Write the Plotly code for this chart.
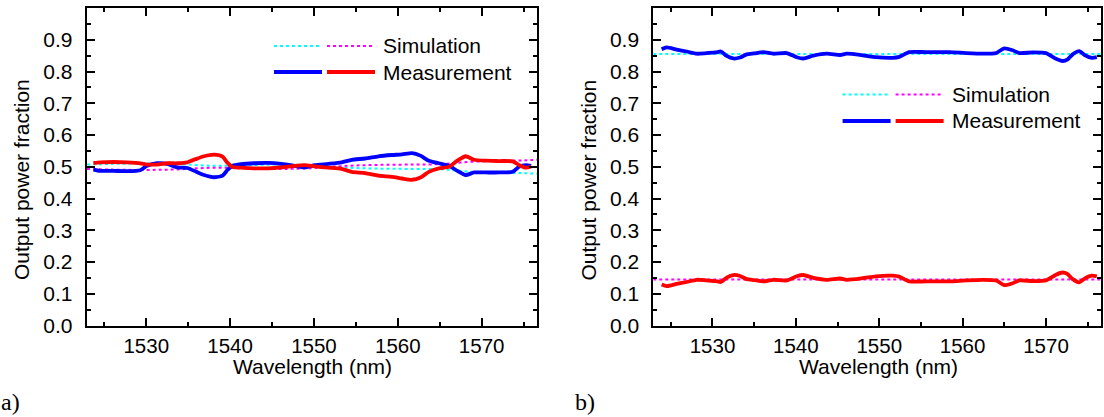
import plotly.graph_objects as go

W, H = 1104, 417

# ---------------- data: panel a) ----------------
a_sim_wl = [1522.9, 1526, 1530, 1534, 1538, 1542, 1546, 1550, 1554, 1558,
            1562, 1565, 1567, 1569, 1571, 1573, 1575, 1576.6]
a_sim_cyan = [0.507, 0.509, 0.510, 0.508, 0.503, 0.505, 0.507, 0.504, 0.497, 0.494,
              0.493, 0.492, 0.488, 0.484, 0.482, 0.481, 0.480, 0.478]
a_sim_magenta = [0.493, 0.491, 0.490, 0.492, 0.497, 0.495, 0.493, 0.496, 0.503, 0.506,
                 0.507, 0.508, 0.512, 0.516, 0.518, 0.519, 0.520, 0.522]

a_meas_wl = [1523.7, 1524.5, 1526.1, 1527.7, 1529.3, 1530.1, 1531.3, 1532.5, 1533.7, 1534.9,
             1535.9, 1536.9, 1538.1, 1539.1, 1539.7, 1540.3, 1541.3, 1542.9, 1544.5, 1546.1,
             1547.7, 1548.9, 1550.1, 1551.7, 1553.3, 1554.5, 1556.1, 1557.7, 1559.3, 1560.5,
             1561.7, 1562.7, 1563.7, 1564.9, 1566.1, 1567.1, 1568.1, 1569.1, 1570.5, 1572.1,
             1573.7, 1574.5, 1575.3, 1575.9]
a_meas_blue = [0.491, 0.487, 0.487, 0.486, 0.489, 0.503, 0.511, 0.509, 0.498, 0.496,
               0.485, 0.474, 0.467, 0.472, 0.490, 0.503, 0.508, 0.511, 0.512, 0.509,
               0.503, 0.498, 0.505, 0.509, 0.514, 0.522, 0.526, 0.533, 0.537, 0.539,
               0.543, 0.535, 0.519, 0.511, 0.503, 0.487, 0.474, 0.482, 0.482, 0.482,
               0.484, 0.501, 0.505, 0.503]
a_meas_red = [0.512, 0.514, 0.515, 0.514, 0.511, 0.507, 0.507, 0.511, 0.511, 0.514,
              0.524, 0.533, 0.538, 0.532, 0.512, 0.499, 0.497, 0.495, 0.495, 0.498,
              0.503, 0.505, 0.501, 0.497, 0.493, 0.484, 0.480, 0.472, 0.468, 0.463,
              0.459, 0.466, 0.484, 0.495, 0.500, 0.519, 0.533, 0.522, 0.519, 0.518,
              0.517, 0.505, 0.497, 0.501]

# ---------------- data: panel b) ----------------
b_sim_wl = [1522.9, 1576.6]
b_sim_cyan = [0.855, 0.855]
b_sim_magenta = [0.145, 0.145]

b_meas_wl = [1523.9, 1524.5, 1525.7, 1526.9, 1528.1, 1529.3, 1530.4, 1531.0, 1531.7, 1532.5,
             1533.3, 1534.1, 1535.0, 1536.1, 1537.3, 1538.9, 1540.1, 1540.9, 1542.1, 1543.7,
             1545.3, 1546.1, 1548.0, 1549.6, 1551.6, 1552.4, 1553.6, 1555.6, 1558.4, 1560.4,
             1562.4, 1564.0, 1565.0, 1566.0, 1566.8, 1568.4, 1570.0, 1571.2, 1572.0, 1572.6,
             1573.2, 1574.0, 1574.7, 1575.5, 1576.1]
b_meas_blue = [0.870, 0.876, 0.869, 0.863, 0.856, 0.858, 0.860, 0.863, 0.849, 0.841,
               0.844, 0.854, 0.857, 0.861, 0.856, 0.858, 0.845, 0.841, 0.850, 0.856,
               0.852, 0.856, 0.851, 0.845, 0.843, 0.846, 0.861, 0.861, 0.861, 0.858,
               0.856, 0.858, 0.873, 0.867, 0.858, 0.860, 0.858, 0.840, 0.833, 0.838,
               0.854, 0.864, 0.851, 0.843, 0.845]
b_meas_red = [0.129, 0.124, 0.131, 0.137, 0.144, 0.142, 0.140, 0.137, 0.151, 0.159,
              0.156, 0.146, 0.143, 0.139, 0.144, 0.142, 0.155, 0.159, 0.150, 0.144,
              0.148, 0.144, 0.149, 0.155, 0.157, 0.154, 0.139, 0.139, 0.139, 0.142,
              0.144, 0.142, 0.127, 0.133, 0.142, 0.140, 0.142, 0.160, 0.167, 0.162,
              0.146, 0.136, 0.149, 0.157, 0.155]

x_range = [1522.9, 1576.6]
x_ticks = [1530, 1540, 1550, 1560, 1570]
x_minor = [1525, 1535, 1545, 1555, 1565, 1575]
y_ticks = [0.0, 0.1, 0.2, 0.3, 0.4, 0.5, 0.6, 0.7, 0.8, 0.9]
y_minor = [0.05, 0.15, 0.25, 0.35, 0.45, 0.55, 0.65, 0.75, 0.85, 0.95]

CYAN = "#00FFFF"
MAGENTA = "#FF00FF"
BLUE = "#0000FF"
RED = "#FF0000"
FONT = "Liberation Sans"

fig = go.Figure()

def add_panel(xa, ya, sim_wl, sim_c, sim_m, meas_wl, blue, red):
    fig.add_trace(go.Scatter(x=sim_wl, y=sim_c, mode="lines", xaxis=xa, yaxis=ya,
                             line=dict(color=CYAN, width=2, dash="dot", shape="spline"),
                             showlegend=False, hoverinfo="skip"))
    fig.add_trace(go.Scatter(x=sim_wl, y=sim_m, mode="lines", xaxis=xa, yaxis=ya,
                             line=dict(color=MAGENTA, width=2, dash="dot", shape="spline"),
                             showlegend=False, hoverinfo="skip"))
    fig.add_trace(go.Scatter(x=meas_wl, y=blue, mode="lines", xaxis=xa, yaxis=ya,
                             line=dict(color=BLUE, width=3.8, shape="spline", smoothing=0.6),
                             showlegend=False, hoverinfo="skip"))
    fig.add_trace(go.Scatter(x=meas_wl, y=red, mode="lines", xaxis=xa, yaxis=ya,
                             line=dict(color=RED, width=3.8, shape="spline", smoothing=0.6),
                             showlegend=False, hoverinfo="skip"))

add_panel("x", "y", a_sim_wl, a_sim_cyan, a_sim_magenta, a_meas_wl, a_meas_blue, a_meas_red)
add_panel("x2", "y2", b_sim_wl, b_sim_cyan, b_sim_magenta, b_meas_wl, b_meas_blue, b_meas_red)

def px_x(p):
    return p / W

def px_y(p):
    return 1 - p / H

def xaxis_cfg(domain, anchor):
    return dict(domain=domain, anchor=anchor, range=x_range,
                tickmode="array", tickvals=x_ticks, ticktext=[str(v) for v in x_ticks],
                ticks="inside", ticklen=8, tickwidth=2, tickcolor="black",
                minor=dict(tickmode="array", tickvals=x_minor, ticks="inside",
                           ticklen=4, tickwidth=2, tickcolor="black"),
                showline=True, linewidth=2, linecolor="black", mirror="allticks",
                showgrid=False, zeroline=False, automargin=False,
                tickfont=dict(family=FONT, size=20.5, color="black"), ticklabelstandoff=1)

def yaxis_cfg(domain, anchor):
    return dict(domain=domain, anchor=anchor, range=[0, 1.0],
                tickmode="array", tickvals=y_ticks, ticktext=[f"{v:.1f}" for v in y_ticks],
                ticks="inside", ticklen=8, tickwidth=2, tickcolor="black",
                minor=dict(tickmode="array", tickvals=y_minor, ticks="inside",
                           ticklen=4, tickwidth=2, tickcolor="black"),
                showline=True, linewidth=2, linecolor="black", mirror="allticks",
                showgrid=False, zeroline=False, automargin=False,
                tickfont=dict(family=FONT, size=21, color="black"), ticklabelstandoff=8)

ydom = [px_y(325.5), px_y(8)]
fig.update_layout(
    width=W, height=H,
    margin=dict(l=0, r=0, t=0, b=0, pad=0, autoexpand=False),
    paper_bgcolor="white", plot_bgcolor="white",
    showlegend=False,
    xaxis=xaxis_cfg([px_x(86.7), px_x(537)], "y"),
    yaxis=yaxis_cfg(ydom, "x"),
    xaxis2=xaxis_cfg([px_x(653.3), px_x(1101)], "y2"),
    yaxis2=yaxis_cfg(ydom, "x2"),
)

shapes = []
annotations = []

def hline(x0, x1, y, color, dash):
    shapes.append(dict(type="line", xref="paper", yref="paper",
                       x0=px_x(x0), x1=px_x(x1), y0=px_y(y), y1=px_y(y),
                       line=dict(color=color, width=2 if dash != "solid" else 3.8, dash=dash)))

def text(x, y, s, size=21, angle=0, xanchor="left", family=FONT):
    annotations.append(dict(x=px_x(x), y=px_y(y), xref="paper", yref="paper", text=s,
                            showarrow=False, xanchor=xanchor, yanchor="middle",
                            textangle=angle, borderpad=0,
                            font=dict(family=family, size=size, color="black")))

# legends
for (dx, ys, ym) in [(0, 46, 72), (568.6, 94.5, 121)]:
    hline(274 + dx, 322 + dx, ys, CYAN, "dot")
    hline(327 + dx, 375 + dx, ys, MAGENTA, "dot")
    hline(274 + dx, 322 + dx, ym, BLUE, "solid")
    hline(327 + dx, 375 + dx, ym, RED, "solid")
    text(382 + dx, ys, "Simulation")
    text(382 + dx, ym, "Measurement")

# axis titles and panel labels
for dx in [0, 566.6]:
    text(21 + dx, 180, "Output power fraction", angle=-90, xanchor="center")
    text(312 + dx, 366, "Wavelength (nm)", xanchor="center")
text(0, 402, "a)", size=24, family="Liberation Serif")
text(574, 402, "b)", size=24, family="Liberation Serif")

fig.update_layout(shapes=shapes, annotations=annotations)

post = (
    "document.body.style.margin='0px';"
    "document.body.style.overflow='hidden';"
)
fig.write_html("out.html", config={"displayModeBar": False}, post_script=post)
